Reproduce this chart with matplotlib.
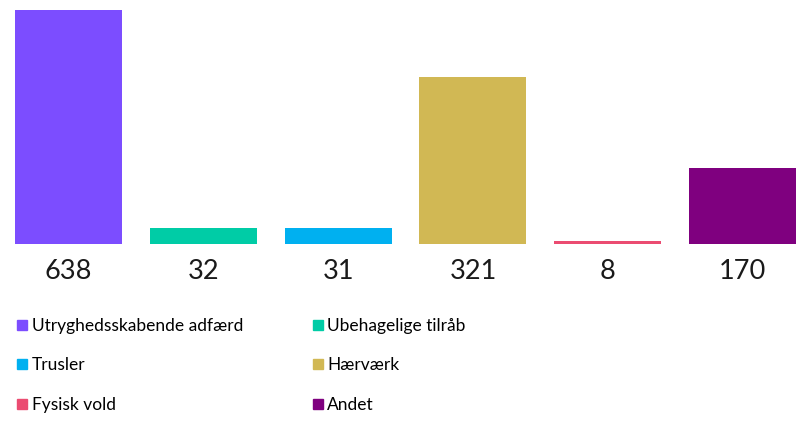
import matplotlib.pyplot as plt
from matplotlib.lines import Line2D

# Kategorier og antal
categories = ['Utryghedsskabende adfærd', 'Ubehagelige tilråb', 'Trusler',
              'Hærværk', 'Fysisk vold', 'Andet']
counts = [638, 32, 31, 321, 8, 170]
# søjlehøjder som de er tegnet i originalen (ikke proportionale med antal)
bar_heights = [234, 16, 16, 167, 3, 76]
colors = ['#7C4DFF', '#00CCA6', '#00B0F0', '#D1B854', '#EB4C71', '#7F007F']

plt.rcParams['font.family'] = ['Lato', 'DejaVu Sans']

fig = plt.figure(figsize=(8.07, 4.25), dpi=100)
ax = fig.add_axes([1 / 807, 1 - 244 / 425, 809 / 807, 234 / 425])

x = range(len(categories))
ax.bar(x, bar_heights, width=0.794, color=colors)
ax.set_xlim(-0.5, 5.5)
ax.set_ylim(0, 234)
ax.axis('off')

for i, c in enumerate(counts):
    ax.annotate(str(c), (i, 0), xytext=(0, -19.5), textcoords='offset points',
                ha='center', va='center', fontsize=19.5, color='#1a1a1a')

# Forklaring, rækkevis som i originalen
handles = [Line2D([], [], marker='s', linestyle='none', markersize=6.5,
                  color=col) for col in colors]
order = [0, 2, 4, 1, 3, 5]
fig.legend([handles[i] for i in order], [categories[i] for i in order],
           ncol=2, loc='upper left', bbox_to_anchor=(0.021, 1 - 318 / 425),
           frameon=False, fontsize=12.5, handlelength=0.6, handletextpad=0.25,
           columnspacing=4.0, labelspacing=1.35, borderaxespad=0,
           borderpad=0)

fig.savefig('out.png', dpi=100)
